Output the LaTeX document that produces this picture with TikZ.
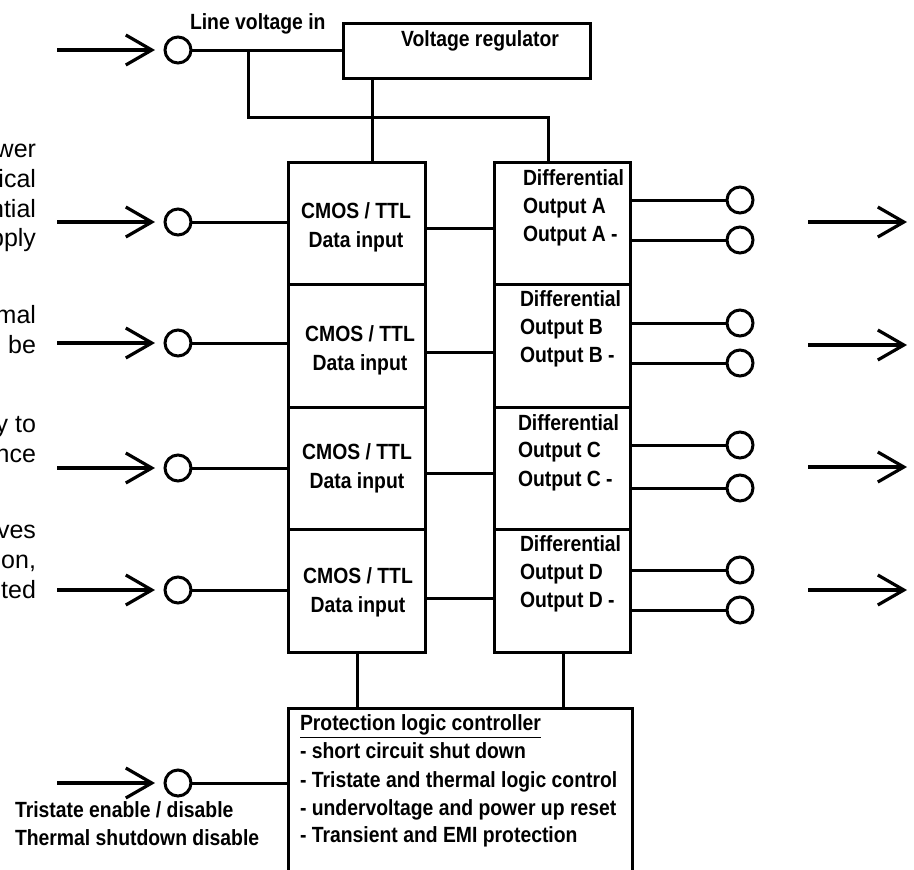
\documentclass[tikz,border=0pt]{standalone}
\usepackage{fontspec}
\setmainfont{Liberation Sans}
\newfontfamily\nb{Liberation Sans Bold}[FakeStretch=0.88]
\newfontfamily\rg{Liberation Sans}
\usetikzlibrary{arrows.meta}
\tikzset{
  ln/.style={line width=1.5pt},
  blk/.style={draw, line width=1.5pt, inner sep=0pt, outer sep=0pt},
  pin/.style={circle, draw, line width=1.5pt, minimum size=13pt, inner sep=0pt, outer sep=0pt, fill=white},
  arr/.style={line width=1.6pt, -{Straight Barb[length=13pt,width=15pt]}},
  bt/.style={font=\nb\fontsize{11pt}{14pt}\selectfont, inner sep=0pt, outer sep=0pt},
  rt/.style={font=\rg\fontsize{12.5pt}{15pt}\selectfont, inner sep=0pt, outer sep=0pt, anchor=base east}
}
\begin{document}
\begin{tikzpicture}[x=0.5pt,y=-0.5pt]
\useasboundingbox (0,0) rectangle (914,869);
\clip (0,0) rectangle (914,869);
\fill[white] (0,0) rectangle (914,869);

% voltage regulator
\node[blk, minimum width=123.5pt, minimum height=27.5pt] (reg) at (466.5,50.5) {};
\node[bt, anchor=base] (regt) at (480,46) {Voltage regulator};
\node[bt, anchor=base west] (lvt) at (190,29) {Line voltage in};

% boxes
\foreach \i/\yc in {1/223.25, 2/345.75, 3/468.25, 4/590.75} {
  \node[blk, minimum width=68.5pt, minimum height=61.25pt] (cm\i) at (356.5,\yc) {};
  \node[blk, minimum width=68pt, minimum height=61.25pt] (df\i) at (562,\yc) {};
}
\node[blk, minimum width=172pt, minimum height=86pt] (pr) at (460,794) {};

% input pins
\node[pin] (ciL) at (178,50) {};
\node[pin] (ci1) at (178,222) {};
\node[pin] (ci2) at (178,343) {};
\node[pin] (ci3) at (178,468) {};
\node[pin] (ci4) at (178,590) {};
\node[pin] (ciT) at (178,783) {};

% output pins
\node[pin] (co1a) at (740,200) {};
\node[pin] (co1b) at (740,240) {};
\node[pin] (co2a) at (740,323) {};
\node[pin] (co2b) at (740,363) {};
\node[pin] (co3a) at (740,445) {};
\node[pin] (co3b) at (740,488) {};
\node[pin] (co4a) at (740,570) {};
\node[pin] (co4b) at (740,610) {};

% input arrows
\foreach \n/\yy in {L/50, 1/222, 2/343, 3/468, 4/590, T/783} {
  \coordinate (a\n) at (57,\yy);
  \draw[arr] (a\n) -- ([xshift=-5pt]ci\n.west);
}
% output arrows
\foreach \n/\yy in {1/222, 2/345, 3/467, 4/590} {
  \coordinate (r\n s) at (808,\yy);
  \coordinate (r\n e) at (907,\yy);
  \draw[arr] (r\n s) -- (r\n e);
}

% power wiring
\draw[ln] (ciL.east) -- (ciL.east -| reg.west);
\coordinate (jL) at (248,50);
\coordinate (jR) at (548,117);
\draw[ln] (jL) |- (jR) -- (jR |- df1.north);
\coordinate (rv) at (372,0);
\draw[ln] (rv |- reg.south) -- (rv |- cm1.north);

% input wiring
\foreach \i in {1,2,3,4} {
  \draw[ln] (ci\i.east) -- (ci\i.east -| cm\i.west);
}
\draw[ln] (ciT.east) -- (ciT.east -| pr.west);

% cmos to differential
\draw[ln] (cm1.east |- 0,228) -- (df1.west |- 0,228);
\draw[ln] (cm2.east |- 0,352) -- (df2.west |- 0,352);
\draw[ln] (cm3.east |- 0,473) -- (df3.west |- 0,473);
\draw[ln] (cm4.east |- 0,598) -- (df4.west |- 0,598);

% outputs
\foreach \i in {1,2,3,4} {
  \draw[ln] (co\i a.west -| df\i.east) -- (co\i a.west);
  \draw[ln] (co\i b.west -| df\i.east) -- (co\i b.west);
}

% to protection
\coordinate (bv1) at (357,0);
\coordinate (bv2) at (563,0);
\draw[ln] (bv1 |- cm4.south) -- (bv1 |- pr.north);
\draw[ln] (bv2 |- df4.south) -- (bv2 |- pr.north);

% CMOS texts
\foreach \i/\xx/\ya/\yb in {1/356/218/247, 2/360/341/370, 3/357/459/488, 4/358/583/612} {
  \node[bt, anchor=base] (ct\i a) at (\xx,\ya) {CMOS / TTL};
  \node[bt, anchor=base] (ct\i b) at (\xx,\yb) {Data input};
}
% Differential texts
\foreach \i/\L/\xx/\ya/\yb/\yc in {1/A/523/185/213/241, 2/B/520/306/334/362, 3/C/518/430/457/486, 4/D/520/551/579/607} {
  \node[bt, anchor=base west] (dt\i a) at (\xx,\ya) {Differential};
  \node[bt, anchor=base west] (dt\i b) at (\xx,\yb) {Output \L};
  \node[bt, anchor=base west] (dt\i c) at (\xx,\yc) {Output \L\ -};
}

% protection text
\node[bt, anchor=base west] (pt1) at (300,730) {\underline{Protection logic controller}};
\node[bt, anchor=base west] (pt2) at (300,758) {- short circuit shut down};
\node[bt, anchor=base west] (pt3) at (300,787) {- Tristate and thermal logic control};
\node[bt, anchor=base west] (pt4) at (300,815) {- undervoltage and power up reset};
\node[bt, anchor=base west] (pt5) at (300,842) {- Transient and EMI protection};

% tristate label
\node[bt, anchor=base west] (tl1) at (15,817) {Tristate enable / disable};
\node[bt, anchor=base west] (tl2) at (15,845) {Thermal shutdown disable};

% left cut-off text
\foreach \n/\t/\yb in {1/wer/157, 2/ical/187, 3/ntial/217, 4/pply/246, 5/mal/323, 6/be/353, 7/{y to}/432, 8/nce/462, 9/ves/538, 10/{on,}/568, 11/ted/598} {
  \node[rt] (lt\n) at (36,\yb) {\t};
}
\end{tikzpicture}
\end{document}
